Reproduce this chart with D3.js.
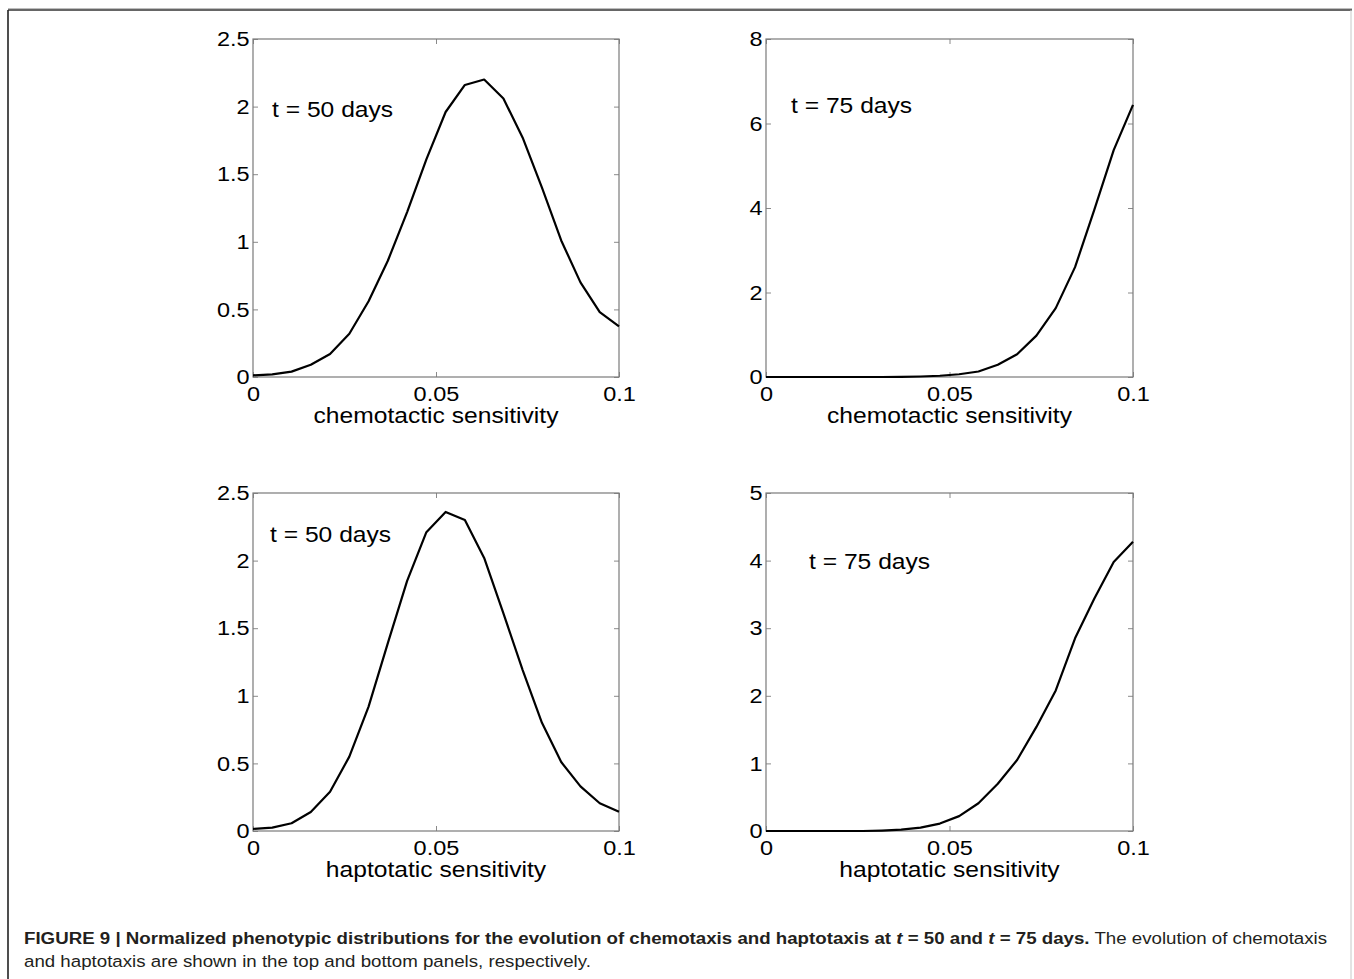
<!DOCTYPE html>
<html>
<head>
<meta charset="utf-8">
<script src="https://cdn.jsdelivr.net/npm/d3@7"></script>
<style>
  html, body { margin: 0; padding: 0; background: #fff; }
  svg { display: block; font-family: "Liberation Sans", Arial, Helvetica, sans-serif; }
</style>
</head>
<body>
<svg id="fig" width="1354" height="979"></svg>
<script>
// Sensitivity grid (20 nodes on [0, 0.1])
const sensitivity = [0, 0.00526, 0.01053, 0.01579, 0.02105, 0.02632, 0.03158, 0.03684, 0.04211, 0.04737,
                     0.05263, 0.05789, 0.06316, 0.06842, 0.07368, 0.07895, 0.08421, 0.08947, 0.09474, 0.1];

// Normalized phenotypic distributions
const chemo50 = [0.012, 0.02, 0.04, 0.09, 0.17, 0.32, 0.56, 0.86, 1.22, 1.61,
                 1.96, 2.16, 2.20, 2.06, 1.77, 1.40, 1.01, 0.70, 0.48, 0.375];
const chemo75 = [0, 0, 0, 0, 0, 0, 0, 0.004, 0.012, 0.03,
                 0.065, 0.13, 0.29, 0.54, 0.98, 1.63, 2.6, 3.96, 5.37, 6.44];
const hapto50 = [0.015, 0.025, 0.057, 0.14, 0.29, 0.55, 0.92, 1.39, 1.85, 2.21,
                 2.36, 2.30, 2.02, 1.61, 1.19, 0.80, 0.51, 0.33, 0.205, 0.143];
const hapto75 = [0, 0, 0, 0, 0, 0, 0.007, 0.02, 0.05, 0.11,
                 0.22, 0.41, 0.70, 1.05, 1.54, 2.08, 2.85, 3.44, 3.98, 4.28];

// Axis ticks and labels
const xTicks = [0, 0.05, 0.1];
const xTickLabels = ["0", "0.05", "0.1"];
const yTicksA = [0, 0.5, 1, 1.5, 2, 2.5];
const yTicksB = [0, 2, 4, 6, 8];
const yTicksC = [0, 1, 2, 3, 4, 5];
const panelTitles = ["t = 50 days", "t = 75 days", "t = 50 days", "t = 75 days"];
const xTitles = ["chemotactic sensitivity", "chemotactic sensitivity", "haptotatic sensitivity", "haptotatic sensitivity"];

const svg = d3.select("#fig");
const STRETCH = 1.12;   // slightly wide lettering of the axis text
const FS = 21;

// Outer frame
svg.append("line").attr("x1", 8).attr("x2", 1352).attr("y1", 8.5).attr("y2", 8.5)
  .attr("stroke", "#bdbdbd").attr("stroke-width", 1);
svg.append("line").attr("x1", 8).attr("x2", 1352).attr("y1", 10).attr("y2", 10)
  .attr("stroke", "#333").attr("stroke-width", 1.6);
svg.append("line").attr("x1", 8).attr("x2", 8).attr("y1", 10).attr("y2", 979)
  .attr("stroke", "#222").attr("stroke-width", 1.6);
svg.append("line").attr("x1", 1351).attr("x2", 1351).attr("y1", 10).attr("y2", 979)
  .attr("stroke", "#c8c8c8").attr("stroke-width", 1);

const panels = [
  { x0: 253, x1: 619, y0: 39, y1: 377, yMax: 2.5, yTicks: yTicksA, data: chemo50, lab: [272, 117] },
  { x0: 766, x1: 1133, y0: 39, y1: 377, yMax: 8, yTicks: yTicksB, data: chemo75, lab: [791, 113] },
  { x0: 253, x1: 619, y0: 493, y1: 831, yMax: 2.5, yTicks: yTicksA, data: hapto50, lab: [270, 542] },
  { x0: 766, x1: 1133, y0: 493, y1: 831, yMax: 5, yTicks: yTicksC, data: hapto75, lab: [809, 569] }
];

panels.forEach((p, k) => {
  const x = d3.scaleLinear().domain([0, 0.1]).range([p.x0, p.x1]);
  const y = d3.scaleLinear().domain([0, p.yMax]).range([p.y1, p.y0]);
  const g = svg.append("g");

  // Inward ticks on all four sides
  const styleAxis = (sel) => {
    sel.select(".domain").remove();
    sel.selectAll(".tick line").attr("stroke", "#8a8a8a").attr("stroke-width", 1);
    sel.selectAll(".tick text").attr("fill", "#000").attr("font-size", FS)
      .attr("font-family", "Liberation Sans, Arial, sans-serif")
      .attr("transform", `scale(${STRETCH},1)`);
  };
  g.append("g").attr("transform", `translate(0,${p.y1})`)
    .call(d3.axisBottom(x).tickValues(xTicks).tickFormat((d, i) => xTickLabels[i]).tickSize(-5).tickPadding(9))
    .call(styleAxis);
  g.append("g").attr("transform", `translate(0,${p.y0})`)
    .call(d3.axisTop(x).tickValues(xTicks).tickFormat("").tickSize(-5))
    .call(styleAxis);
  g.append("g").attr("transform", `translate(${p.x0},0)`)
    .call(d3.axisLeft(y).tickValues(p.yTicks).tickFormat(d3.format("")).tickSize(-5).tickPadding(3))
    .call(styleAxis);
  g.append("g").attr("transform", `translate(${p.x1},0)`)
    .call(d3.axisRight(y).tickValues(p.yTicks).tickFormat("").tickSize(-5))
    .call(styleAxis);

  // Box
  g.append("rect").attr("x", p.x0).attr("y", p.y0)
    .attr("width", p.x1 - p.x0).attr("height", p.y1 - p.y0)
    .attr("fill", "none").attr("stroke", "#7a7a7a").attr("stroke-width", 1.2);

  // Distribution curve
  const line = d3.line().x((d, i) => x(sensitivity[i])).y(d => y(d));
  g.append("path").datum(p.data).attr("d", line)
    .attr("fill", "none").attr("stroke", "#000").attr("stroke-width", 2.2)
    .attr("stroke-linejoin", "round");

  // Time label
  g.append("g").attr("transform", `translate(${p.lab[0]},${p.lab[1]}) scale(${STRETCH},1)`)
    .append("text").attr("font-size", FS + 1).attr("fill", "#000").text(panelTitles[k]);

  // Axis title
  g.append("g").attr("transform", `translate(${(p.x0 + p.x1) / 2},${p.y1 + 46}) scale(${STRETCH},1)`)
    .append("text").attr("text-anchor", "middle").attr("font-size", FS + 1).attr("fill", "#000")
    .text(xTitles[k]);
});

// Caption
const capG = svg.append("g").attr("transform", "translate(24,944) scale(1.1,1)");
const cap = capG.append("text").attr("x", 0).attr("y", 0).attr("font-size", 17).attr("fill", "#231f20");
cap.append("tspan").attr("font-weight", "bold")
  .text("FIGURE 9 | Normalized phenotypic distributions for the evolution of chemotaxis and haptotaxis at ");
cap.append("tspan").attr("font-weight", "bold").attr("font-style", "italic").text("t");
cap.append("tspan").attr("font-weight", "bold").text(" = 50 and ");
cap.append("tspan").attr("font-weight", "bold").attr("font-style", "italic").text("t");
cap.append("tspan").attr("font-weight", "bold").text(" = 75 days.");
cap.append("tspan").text(" The evolution of chemotaxis");
capG.append("text").attr("x", 0).attr("y", 23).attr("font-size", 17).attr("fill", "#231f20")
  .text("and haptotaxis are shown in the top and bottom panels, respectively.");
</script>
</body>
</html>
